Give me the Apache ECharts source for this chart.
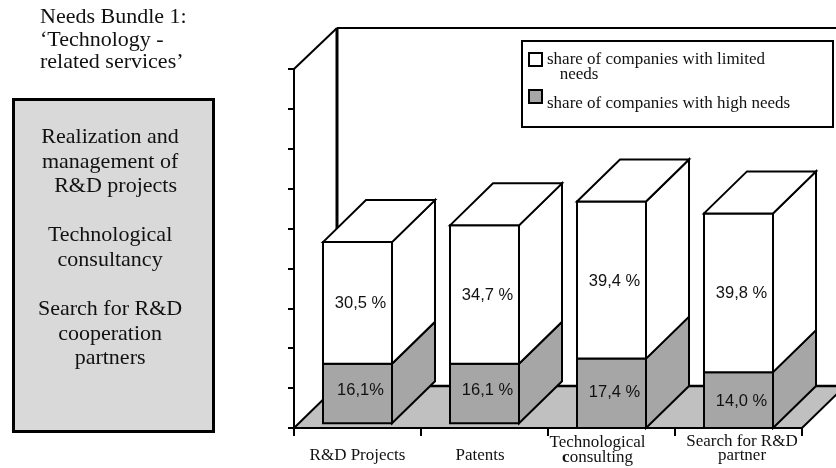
<!DOCTYPE html>
<html>
<head>
<meta charset="utf-8">
<style>html,body{margin:0;padding:0;background:#fff}#chart{width:836px;height:468px}</style>
<script src="https://cdn.jsdelivr.net/npm/echarts@6/dist/echarts.min.js"></script>
</head>
<body>
<div id="chart"></div>
<script>
// Stacked pseudo-3D columns: needs per service, as a share of companies.
const categories = ['R&D Projects', 'Patents', 'Technological\nconsulting', 'Search for R&D\npartner'];
const highNeeds = [16.1, 16.1, 17.4, 14.0];
const limitedNeeds = [30.5, 34.7, 39.4, 39.8];
const highLabels = ['16,1%', '16,1 %', '17,4 %', '14,0 %'];
const limitedLabels = ['30,5 %', '34,7 %', '39,4 %', '39,8 %'];
const frontLift = [1.2, 1.2, 0, 0];          // first two columns stand slightly above the axis
const valueTicks = [0, 10, 20, 30, 40, 50, 60, 70, 80, 90];

const limitedName = 'share of companies with limited needs';
const highName = 'share of companies with high needs';
const panelTitle = 'Needs Bundle 1:\n\u2018Technology -\nrelated services\u2019';
const panelText = 'Realization and\nmanagement of\n  R&D projects\n\nTechnological\nconsultancy\n\nSearch for R&D\ncooperation\npartners';

const SERIF = '"Liberation Serif","Times New Roman",serif';
const SANS = '"Liberation Sans",Arial,sans-serif';
const DEPTH_X = 43, DEPTH_Y = 42, COLUMN_SHARE = 69 / 127;
const GREY_FRONT = '#a6a6a6', GREY_FLOOR = '#c0c0c0', INK = '#000';

// Back wall, side wall and floor of the 3D box around the plot.
function renderFrame(params, api) {
  const r = params.coordSys;
  const x0 = r.x, x1 = r.x + r.width, yT = r.y, yB = r.y + r.height;
  const dx = DEPTH_X, dy = DEPTH_Y;
  const line = { stroke: INK, lineWidth: 2 };
  return { type: 'group', silent: true, children: [
    { type: 'polygon', shape: { points: [[x0, yB], [x0 + dx, yB - dy], [x1 + dx, yB - dy], [x1, yB]] },
      style: { fill: GREY_FLOOR, stroke: INK, lineWidth: 2 } },
    { type: 'line', shape: { x1: x0, y1: yT, x2: x0 + dx, y2: yT - dy + 1 }, style: line },
    { type: 'line', shape: { x1: x0 + dx, y1: yT - dy + 1, x2: x1 + dx, y2: yT - dy + 1 }, style: { stroke: INK, lineWidth: 2.2 } },
    { type: 'line', shape: { x1: x0 + dx, y1: yT - dy + 1, x2: x0 + dx, y2: yB - dy }, style: { stroke: INK, lineWidth: 3 } },
    { type: 'line', shape: { x1: x0 + dx, y1: yB - dy, x2: x1 + dx, y2: yB - dy }, style: { stroke: INK, lineWidth: 2.4 } }
  ] };
}

// One stacked segment: front face, side face, optional top face and its value text.
function renderSegment(fill, labels, withTop, labelLift) {
  return function (params, api) {
    const i = api.value(0);
    const bottom = api.coord([i, api.value(1)]);
    const top = api.coord([i, api.value(2)]);
    const w = api.size([1, 0])[0] * COLUMN_SHARE;
    const xL = bottom[0] - w / 2, xR = bottom[0] + w / 2;
    const dx = DEPTH_X, dy = DEPTH_Y;
    const edge = { stroke: INK, lineWidth: 2, lineJoin: 'miter' };
    const kids = [
      { type: 'polygon', shape: { points: [[xR, bottom[1]], [xR + dx, bottom[1] - dy], [xR + dx, top[1] - dy], [xR, top[1]]] },
        style: Object.assign({ fill: fill }, edge) },
      { type: 'rect', shape: { x: xL, y: top[1], width: w, height: bottom[1] - top[1] },
        style: Object.assign({ fill: fill }, edge) }
    ];
    if (withTop) {
      kids.push({ type: 'polygon', shape: { points: [[xL, top[1]], [xL + dx, top[1] - dy], [xR + dx, top[1] - dy], [xR, top[1]]] },
        style: Object.assign({ fill: fill }, edge) });
    }
    kids.push({ type: 'text', silent: true, style: {
      x: bottom[0] + 3, y: (bottom[1] + top[1]) / 2 - labelLift[i],
      text: labels[i], fill: '#111', font: '16.5px ' + SANS,
      textAlign: 'center', textVerticalAlign: 'middle' } });
    return { type: 'group', children: kids };
  };
}

const highData = highNeeds.map((v, i) => [i, frontLift[i], v]);
const limitedData = limitedNeeds.map((v, i) => [i, highNeeds[i], highNeeds[i] + v]);

// Per-category nudges that keep each axis caption where the layout wants it.
const captionPadding = [[14, 0, 0, 0], [14, 9, 0, 0], [0, 28, 0, 0], [0, 0, 0, 7]];
const captionLeading = [14, 14, 15, 14];

const chart = echarts.init(document.getElementById('chart'), null, { renderer: 'canvas' });
chart.setOption({
  animation: false,
  backgroundColor: '#fff',
  title: {
    text: panelTitle, left: 40, top: 6, padding: 0,
    textStyle: { fontFamily: SERIF, fontSize: 22, fontWeight: 'normal', color: '#111', lineHeight: 22.5 }
  },
  grid: { left: 294, right: 34, top: 69, bottom: 40, containLabel: false },
  legend: {
    left: 528, top: 36, orient: 'vertical', selectedMode: false,
    padding: 0, itemGap: -2, itemWidth: 13, itemHeight: 13,
    // A leading blank line drops each caption below its swatch.
    formatter: n => n === limitedName ? '\nshare of companies with limited\n   needs' : '\n' + n,
    textStyle: { fontFamily: SERIF, fontSize: 17, color: '#111', lineHeight: 14 },
    data: [
      { name: limitedName, icon: 'rect', itemStyle: { color: '#fff', borderColor: INK, borderWidth: 2 }, textStyle: { lineHeight: 15 } },
      { name: highName, icon: 'rect', itemStyle: { color: GREY_FRONT, borderColor: INK, borderWidth: 2 } }
    ]
  },
  xAxis: {
    type: 'category',
    data: categories.map((c, i) => ({ value: c, textStyle: { padding: captionPadding[i], lineHeight: captionLeading[i] } })),
    axisLine: { lineStyle: { color: INK, width: 2 } },
    axisTick: { show: true, alignWithLabel: false, length: 8, lineStyle: { color: INK, width: 2 } },
    axisLabel: {
      interval: 0, margin: 7, color: '#111', fontFamily: SERIF, fontSize: 17, lineHeight: 14,
      formatter: v => v.replace('consulting', '{b|c}onsulting'),
      rich: { b: { fontWeight: 'bold', fontFamily: SERIF, fontSize: 17, color: '#111' } }
    }
  },
  yAxis: {
    type: 'value', min: valueTicks[0], max: valueTicks[valueTicks.length - 1], interval: 10,
    axisLine: { show: true, lineStyle: { color: INK, width: 2 } },
    axisTick: { show: true, length: 6, lineStyle: { color: INK, width: 2 } },
    axisLabel: { show: false }, splitLine: { show: false }
  },
  series: [
    { type: 'custom', name: 'frame', z: 1, silent: true, renderItem: renderFrame, data: [[0, 0]], encode: { x: 0, y: 1 } },
    { type: 'custom', name: highName, z: 3, itemStyle: { color: GREY_FRONT }, renderItem: renderSegment(GREY_FRONT, highLabels, false, [3, 3, 0.5, -1]), data: highData, encode: { x: 0, y: [1, 2] } },
    { type: 'custom', name: limitedName, z: 4, itemStyle: { color: '#fff' }, renderItem: renderSegment('#fff', limitedLabels, true, [-1, -1, -1, -1]), data: limitedData, encode: { x: 0, y: [1, 2] } }
  ],
  graphic: [
    { type: 'rect', left: 12, top: 98, shape: { width: 200, height: 332 }, style: { fill: '#d9d9d9', stroke: INK, lineWidth: 3 } },
    { type: 'text', left: 38, top: 125, style: { text: panelText, fill: '#111', font: '22px ' + SERIF, lineHeight: 24.6, textAlign: 'center', width: 140 } },
    { type: 'rect', left: 521, top: 40, z: -1, shape: { width: 311, height: 86 }, style: { fill: '#fff', stroke: INK, lineWidth: 2 } }
  ]
});
</script>
</body>
</html>
